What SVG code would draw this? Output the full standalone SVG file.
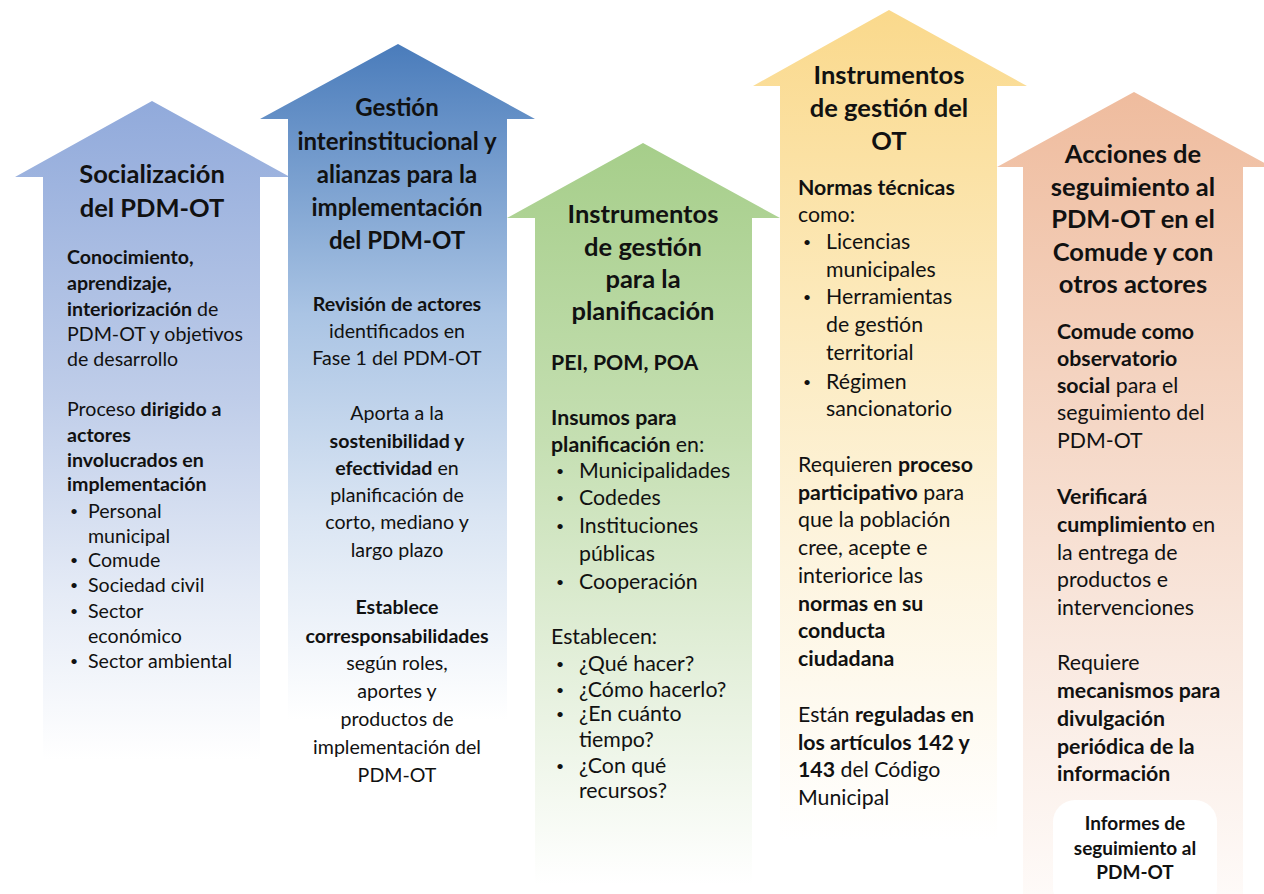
<svg xmlns="http://www.w3.org/2000/svg" width="1264" height="894" viewBox="0 0 1264 894">
<defs>
<linearGradient id="g1" gradientUnits="userSpaceOnUse" x1="0" y1="101" x2="0" y2="760">
<stop offset="0" stop-color="#91aadb"/><stop offset="0.45" stop-color="#bfcde9"/><stop offset="0.75" stop-color="#e5ebf6"/><stop offset="1" stop-color="#ffffff"/>
</linearGradient>
<linearGradient id="g2" gradientUnits="userSpaceOnUse" x1="0" y1="44" x2="0" y2="720">
<stop offset="0" stop-color="#4a7cbb"/><stop offset="0.4" stop-color="#aac4e4"/><stop offset="0.7" stop-color="#dae5f3"/><stop offset="1" stop-color="#ffffff"/>
</linearGradient>
<linearGradient id="g3" gradientUnits="userSpaceOnUse" x1="0" y1="143" x2="0" y2="885">
<stop offset="0" stop-color="#a6ce8a"/><stop offset="0.4" stop-color="#c5dfb2"/><stop offset="0.7" stop-color="#e3efda"/><stop offset="1" stop-color="#ffffff"/>
</linearGradient>
<linearGradient id="g4" gradientUnits="userSpaceOnUse" x1="0" y1="10" x2="0" y2="840">
<stop offset="0" stop-color="#fad98c"/><stop offset="0.35" stop-color="#fce9ba"/><stop offset="0.65" stop-color="#fdf4de"/><stop offset="1" stop-color="#ffffff"/>
</linearGradient>
<linearGradient id="g5" gradientUnits="userSpaceOnUse" x1="0" y1="92" x2="0" y2="894">
<stop offset="0" stop-color="#efbc9e"/><stop offset="0.35" stop-color="#f4d3c0"/><stop offset="0.7" stop-color="#f9e9e0"/><stop offset="1" stop-color="#fefaf8"/>
</linearGradient>
<style>
text{font-family:Lato,"Open Sans","Liberation Sans",sans-serif;fill:#111;}
.t{font-size:25.5px;font-weight:bold;text-anchor:middle;}
.t2{font-size:24px;font-weight:bold;text-anchor:middle;}
.b{font-size:19.6px;}
.c{font-size:19.6px;text-anchor:middle;}
.d{font-size:21.3px;}
.dot{font-size:14px;}
.bb{font-weight:bold;}
.bx{font-size:19px;font-weight:bold;text-anchor:middle;}
</style>
</defs>
<rect width="1264" height="894" fill="#ffffff"/>

<g id="node-socializacion">
<path d="M152,101 L290,177 L260,177 L260,760 L43,760 L43,177 L15,177 Z" fill="url(#g1)"/>
<text class="t" x="152" y="183">Socialización</text>
<text class="t" x="152" y="217">del PDM-OT</text>
<text class="b" x="67" y="264"><tspan class="bb">Conocimiento,</tspan></text>
<text class="b" x="67" y="290"><tspan class="bb">aprendizaje,</tspan></text>
<text class="b" x="67" y="316"><tspan class="bb">interiorización</tspan> de</text>
<text class="b" x="67" y="341">PDM-OT y objetivos</text>
<text class="b" x="67" y="366">de desarrollo</text>
<text class="b" x="67" y="416">Proceso <tspan class="bb">dirigido a</tspan></text>
<text class="b" x="67" y="442"><tspan class="bb">actores</tspan></text>
<text class="b" x="67" y="467"><tspan class="bb">involucrados en</tspan></text>
<text class="b" x="67" y="491"><tspan class="bb">implementación</tspan></text>
<text class="dot" x="70" y="516">•</text><text class="b" x="88" y="518">Personal</text>
<text class="b" x="88" y="543">municipal</text>
<text class="dot" x="70" y="565">•</text><text class="b" x="88" y="567">Comude</text>
<text class="dot" x="70" y="590">•</text><text class="b" x="88" y="592">Sociedad civil</text>
<text class="dot" x="70" y="616">•</text><text class="b" x="88" y="618">Sector</text>
<text class="b" x="88" y="643">económico</text>
<text class="dot" x="70" y="666">•</text><text class="b" x="88" y="668">Sector ambiental</text>
</g>

<g id="node-gestion">
<path d="M398,44 L535,119 L507,119 L507,800 L288,800 L288,119 L260,119 Z" fill="url(#g2)"/>
<text class="t2" x="397" y="116">Gestión</text>
<text class="t2" x="397" y="150">interinstitucional y</text>
<text class="t2" x="397" y="183">alianzas para la</text>
<text class="t2" x="397" y="216">implementación</text>
<text class="t2" x="397" y="249">del PDM-OT</text>
<text class="c" x="397" y="311"><tspan class="bb">Revisión de actores</tspan></text>
<text class="c" x="397" y="338">identificados en</text>
<text class="c" x="397" y="365">Fase 1 del PDM-OT</text>
<text class="c" x="397" y="420">Aporta a la</text>
<text class="c" x="397" y="448"><tspan class="bb">sostenibilidad y</tspan></text>
<text class="c" x="397" y="475"><tspan class="bb">efectividad</tspan> en</text>
<text class="c" x="397" y="502">planificación de</text>
<text class="c" x="397" y="529">corto, mediano y</text>
<text class="c" x="397" y="557">largo plazo</text>
<text class="c" x="397" y="614"><tspan class="bb">Establece</tspan></text>
<text class="c" x="397" y="643"><tspan class="bb">corresponsabilidades</tspan></text>
<text class="c" x="397" y="670">según roles,</text>
<text class="c" x="397" y="698">aportes y</text>
<text class="c" x="397" y="726">productos de</text>
<text class="c" x="397" y="754">implementación del</text>
<text class="c" x="397" y="782">PDM-OT</text>
</g>

<g id="node-planificacion">
<path d="M643,143 L780,218 L752,218 L752,885 L535,885 L535,218 L507,218 Z" fill="url(#g3)"/>
<text class="t" x="643" y="223">Instrumentos</text>
<text class="t" x="643" y="256">de gestión</text>
<text class="t" x="643" y="288">para la</text>
<text class="t" x="643" y="320">planificación</text>
<text class="d" x="551" y="370"><tspan class="bb">PEI, POM, POA</tspan></text>
<text class="d" x="551" y="425"><tspan class="bb">Insumos para</tspan></text>
<text class="d" x="551" y="452"><tspan class="bb">planificación</tspan> en:</text>
<text class="dot" x="556" y="476">•</text><text class="d" x="579" y="478">Municipalidades</text>
<text class="dot" x="556" y="503">•</text><text class="d" x="579" y="505">Codedes</text>
<text class="dot" x="556" y="531">•</text><text class="d" x="579" y="533">Instituciones</text>
<text class="d" x="579" y="561">públicas</text>
<text class="dot" x="556" y="587">•</text><text class="d" x="579" y="589">Cooperación</text>
<text class="d" x="551" y="644">Establecen:</text>
<text class="dot" x="556" y="669">•</text><text class="d" x="579" y="671">¿Qué hacer?</text>
<text class="dot" x="556" y="695">•</text><text class="d" x="579" y="697">¿Cómo hacerlo?</text>
<text class="dot" x="556" y="719">•</text><text class="d" x="579" y="721">¿En cuánto</text>
<text class="d" x="579" y="747">tiempo?</text>
<text class="dot" x="556" y="771">•</text><text class="d" x="579" y="773">¿Con qué</text>
<text class="d" x="579" y="798">recursos?</text>
</g>

<g id="node-ot">
<path d="M889,10 L1027,86 L997,86 L997,840 L780,840 L780,86 L753,86 Z" fill="url(#g4)"/>
<text class="t" x="889" y="84">Instrumentos</text>
<text class="t" x="889" y="117">de gestión del</text>
<text class="t" x="889" y="150">OT</text>
<text class="d" x="798" y="195"><tspan class="bb">Normas técnicas</tspan></text>
<text class="d" x="798" y="222">como:</text>
<text class="dot" x="803" y="247">•</text><text class="d" x="826" y="249">Licencias</text>
<text class="d" x="826" y="277">municipales</text>
<text class="dot" x="803" y="302">•</text><text class="d" x="826" y="304">Herramientas</text>
<text class="d" x="826" y="332">de gestión</text>
<text class="d" x="826" y="360">territorial</text>
<text class="dot" x="803" y="387">•</text><text class="d" x="826" y="389">Régimen</text>
<text class="d" x="826" y="416">sancionatorio</text>
<text class="d" x="798" y="472">Requieren <tspan class="bb">proceso</tspan></text>
<text class="d" x="798" y="500"><tspan class="bb">participativo</tspan> para</text>
<text class="d" x="798" y="527">que la población</text>
<text class="d" x="798" y="555">cree, acepte e</text>
<text class="d" x="798" y="583">interiorice las</text>
<text class="d" x="798" y="611"><tspan class="bb">normas en su</tspan></text>
<text class="d" x="798" y="638"><tspan class="bb">conducta</tspan></text>
<text class="d" x="798" y="666"><tspan class="bb">ciudadana</tspan></text>
<text class="d" x="798" y="722">Están <tspan class="bb">reguladas en</tspan></text>
<text class="d" x="798" y="750"><tspan class="bb">los artículos 142 y</tspan></text>
<text class="d" x="798" y="777"><tspan class="bb">143</tspan> del Código</text>
<text class="d" x="798" y="805">Municipal</text>
</g>

<g id="node-seguimiento">
<path d="M1134,92 L1272,167 L1243,167 L1243,894 L1023,894 L1023,167 L997,167 Z" fill="url(#g5)"/>
<text class="t" x="1133" y="163">Acciones de</text>
<text class="t" x="1133" y="196">seguimiento al</text>
<text class="t" x="1133" y="228">PDM-OT en el</text>
<text class="t" x="1133" y="261">Comude y con</text>
<text class="t" x="1133" y="293">otros actores</text>
<text class="d" x="1057" y="339"><tspan class="bb">Comude como</tspan></text>
<text class="d" x="1057" y="366"><tspan class="bb">observatorio</tspan></text>
<text class="d" x="1057" y="393"><tspan class="bb">social</tspan> para el</text>
<text class="d" x="1057" y="420">seguimiento del</text>
<text class="d" x="1057" y="448">PDM-OT</text>
<text class="d" x="1057" y="504"><tspan class="bb">Verificará</tspan></text>
<text class="d" x="1057" y="532"><tspan class="bb">cumplimiento</tspan> en</text>
<text class="d" x="1057" y="560">la entrega de</text>
<text class="d" x="1057" y="587">productos e</text>
<text class="d" x="1057" y="615">intervenciones</text>
<text class="d" x="1057" y="670">Requiere</text>
<text class="d" x="1057" y="698"><tspan class="bb">mecanismos para</tspan></text>
<text class="d" x="1057" y="726"><tspan class="bb">divulgación</tspan></text>
<text class="d" x="1057" y="754"><tspan class="bb">periódica de la</tspan></text>
<text class="d" x="1057" y="781"><tspan class="bb">información</tspan></text>
</g>

<g id="node-informes">
<rect x="1053" y="800" width="164" height="110" rx="22" fill="#ffffff"/>
<text class="bx" x="1135" y="830">Informes de</text>
<text class="bx" x="1135" y="855">seguimiento al</text>
<text class="bx" x="1135" y="879">PDM-OT</text>
</g>

<g id="connectors"></g>
</svg>
